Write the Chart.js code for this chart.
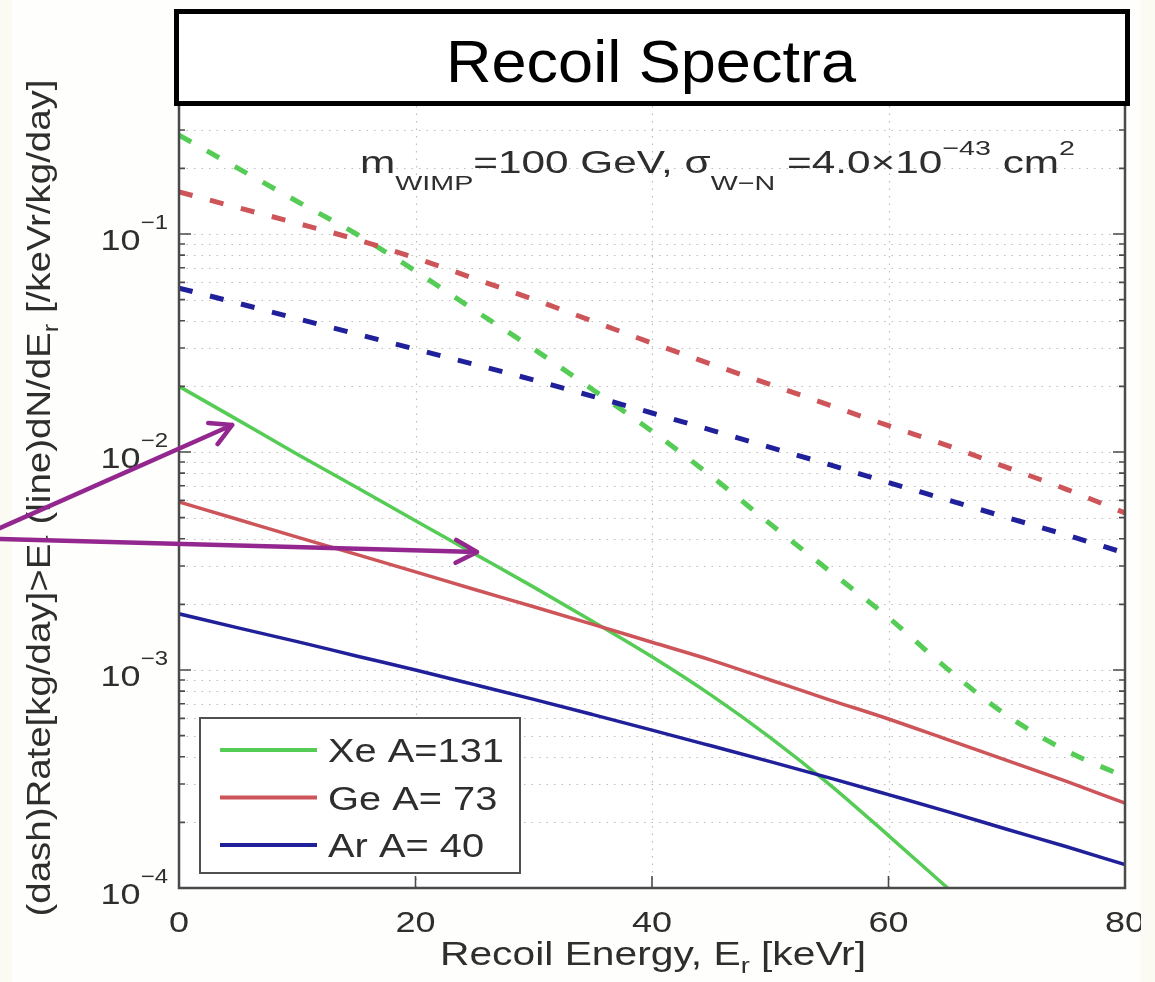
<!DOCTYPE html>
<html><head><meta charset="utf-8">
<script src="https://cdn.jsdelivr.net/npm/chart.js@4.4.1/dist/chart.umd.min.js"></script>
<style>html,body{margin:0;padding:0;background:#fdfdf9;}canvas{display:block;}</style>
</head><body>
<canvas id="c" width="1155" height="982"></canvas>
<script>
// ---------- data ----------
const energies = [0,5,10,15,20,25,30,35,40,45,50,55,60,65,70,75,80];
const xeSpecEnergies = [0,5,10,15,20,25,30,35,40,45,50,55,60,65];
// solid lines: dN/dE [/keVr/kg/day]
const xeSpec = [0.0200,0.0140,0.00977,0.00689,0.00484,0.00341,0.00240,0.00167,0.00115,0.000767,0.000490,0.000299,0.000174,0.000100];
const geSpec = [0.0059,0.0049,0.00407,0.00339,0.00282,0.00234,0.00195,0.00162,0.00134,0.00111,0.00090,0.00073,0.000596,0.000479,0.000385,0.000309,0.000245];
const arSpec = [0.00181,0.00156,0.00135,0.00116,0.00100,0.000857,0.000733,0.000624,0.00053,0.000449,0.00038,0.00032,0.000268,0.000224,0.000186,0.000155,0.000128];
// dashed lines: integrated rate above E [kg/day]
const xeRate = [0.284,0.200,0.141,0.100,0.0676,0.0447,0.0297,0.0193,0.01245,0.00776,0.00468,0.00285,0.00174,0.00101,0.00062,0.000427,0.000324];
const geRate = [0.156,0.132,0.112,0.0944,0.0776,0.0624,0.0501,0.0398,0.0316,0.0253,0.0204,0.0164,0.0132,0.0107,0.0085,0.00676,0.00525];
const arRate = [0.0565,0.0481,0.0409,0.0348,0.0296,0.0252,0.0214,0.0180,0.0151,0.0126,0.0105,0.00875,0.00724,0.00603,0.00501,0.00417,0.00344];
const seriesLabels = ['Xe A=131','Ge A= 73','Ar A= 40'];
const xTickValues = [0,20,40,60,80];
const yDecades = [-4,-3,-2,-1];
const chartTitle = 'Recoil Spectra';
// annotation arrows (data coordinates: keVr, rate)
const arrowTails = [[-16,0.00427],[-16,0.0040]];
const arrowTips  = [[4.5,0.0133],[25.2,0.00348]];

// ---------- styles ----------
const colXe = '#55cc55', colGe = '#cd5559', colAr = '#20209a';
const FAM = '"Liberation Sans", Arial, sans-serif';
const TXT = '#2e2e2e';

function pts(xs, ys){ return ys.map((v,i)=>({x:xs[i], y:v})); }

const solidW = 3.5, dashW = 5, dash = [14,18];
const datasets = [
  {label:seriesLabels[0], data:pts(xeSpecEnergies,xeSpec), borderColor:colXe, borderWidth:solidW, order:3},
  {label:seriesLabels[1], data:pts(energies,geSpec), borderColor:colGe, borderWidth:solidW, order:2},
  {label:seriesLabels[2], data:pts(energies,arSpec), borderColor:colAr, borderWidth:solidW, order:1},
  {label:seriesLabels[0]+' rate', data:pts(energies,xeRate), borderColor:colXe, borderWidth:dashW, borderDash:dash, order:6},
  {label:seriesLabels[1]+' rate', data:pts(energies,geRate), borderColor:colGe, borderWidth:dashW, borderDash:dash, order:5},
  {label:seriesLabels[2]+' rate', data:pts(energies,arRate), borderColor:colAr, borderWidth:dashW, borderDash:dash, order:4},
].map(d=>Object.assign({pointRadius:0, fill:false, cubicInterpolationMode:'monotone', borderCapStyle:'butt'}, d));

// ---------- text helpers ----------
function richWidth(ctx, parts){ let w=0; for(const p of parts){ ctx.font=p.size+'px '+FAM; w+=ctx.measureText(p.t).width; } return w; }
function drawRich(ctx, parts, x, y, align, opt){
  const nat = richWidth(ctx, parts);
  const sx = opt.target ? opt.target/nat : (opt.sx||1);
  const total = nat*sx;
  const x0 = align==='center' ? x-total/2 : align==='right' ? x-total : x;
  ctx.save(); ctx.translate(x0,y); ctx.scale(sx,1);
  ctx.textAlign='left'; ctx.textBaseline='alphabetic'; ctx.fillStyle=opt.color||TXT;
  let cx=0;
  for(const p of parts){ ctx.font=p.size+'px '+FAM; ctx.fillText(p.t,cx,p.dy||0); cx+=ctx.measureText(p.t).width; }
  ctx.restore();
  return sx;
}
function arrow(ctx, x1,y1,x2,y2){
  const a=Math.atan2(y2-y1,x2-x1), L=24, h=0.5;
  ctx.beginPath(); ctx.moveTo(x1,y1); ctx.lineTo(x2,y2);
  ctx.moveTo(x2-L*Math.cos(a-h), y2-L*Math.sin(a-h)); ctx.lineTo(x2,y2);
  ctx.lineTo(x2-L*Math.cos(a+h), y2-L*Math.sin(a+h)); ctx.stroke();
}

const decor = {
  id:'decor',
  beforeDraw(chart){
    const ctx=chart.ctx, a=chart.chartArea, xs=chart.scales.x, ys=chart.scales.y;
    ctx.save();
    ctx.fillStyle='#fefefc'; ctx.fillRect(0,0,chart.width,chart.height);
    ctx.fillStyle='#ffffff'; ctx.fillRect(a.left,a.top,a.right-a.left,a.bottom-a.top);
    // dotted grid
    ctx.strokeStyle='#bdbdbd'; ctx.lineWidth=1.2; ctx.setLineDash([1.5,6]);
    for(let d=-4; d<0; d++){ for(let m=1;m<=9;m++){ const v=m*Math.pow(10,d); if(v<=ys.min) continue;
      const y=Math.round(ys.getPixelForValue(v))+0.5; ctx.beginPath(); ctx.moveTo(a.left,y); ctx.lineTo(a.right,y); ctx.stroke(); } }
    for(const t of xTickValues){ if(t<=xs.min||t>=xs.max) continue; const x=Math.round(xs.getPixelForValue(t))+0.5;
      ctx.beginPath(); ctx.moveTo(x,a.top); ctx.lineTo(x,a.bottom); ctx.stroke(); }
    ctx.restore();
  },
  afterDatasetsDraw(chart){
    const ctx=chart.ctx, a=chart.chartArea, xs=chart.scales.x, ys=chart.scales.y;
    ctx.save();
    // axes box
    ctx.strokeStyle='#4a4a4a'; ctx.lineWidth=2.5; ctx.setLineDash([]);
    ctx.strokeRect(a.left,a.top,a.right-a.left,a.bottom-a.top);
    // ticks (inward)
    ctx.lineWidth=1.6;
    for(let d=-4; d<0; d++){ for(let m=1;m<=9;m++){ const v=m*Math.pow(10,d); const y=ys.getPixelForValue(v); const L=m===1?12:6;
      ctx.beginPath(); ctx.moveTo(a.left,y); ctx.lineTo(a.left+L,y); ctx.moveTo(a.right,y); ctx.lineTo(a.right-L,y); ctx.stroke(); } }
    for(const t of xTickValues){ const x=xs.getPixelForValue(t);
      ctx.beginPath(); ctx.moveTo(x,a.bottom); ctx.lineTo(x,a.bottom-12); ctx.stroke(); }
    // y tick labels 10^n
    for(const d of yDecades){ const y=ys.getPixelForValue(Math.pow(10,d));
      drawRich(ctx,[{t:'10',size:30},{t:'\u2212'+Math.abs(d),size:20,dy:-21}],168,y+16,'right',{sx:1.2}); }
    // x tick labels
    for(const t of xTickValues){ const x=xs.getPixelForValue(t);
      drawRich(ctx,[{t:String(t),size:30}],x,932,'center',{sx:1.2}); }
    // x axis title
    drawRich(ctx,[{t:'Recoil Energy, E',size:33},{t:'r',size:22,dy:8},{t:' [keVr]',size:33}],653,965,'center',{target:426});
    // y axis title (rotated)
    ctx.save(); ctx.translate(50,498); ctx.rotate(-Math.PI/2);
    drawRich(ctx,[{t:'(dash)Rate[kg/day]>E',size:33},{t:'r',size:22,dy:8},{t:' (line)dN/dE',size:33},{t:'r',size:22,dy:8},{t:' [/keVr/kg/day]',size:33}],0,0,'center',{target:837});
    ctx.restore();
    // annotation
    drawRich(ctx,[{t:'m',size:31},{t:'WIMP',size:21,dy:17},{t:'=100 GeV, ',size:31},{t:'\u03c3',size:31},{t:'W\u2212N',size:21,dy:17},
      {t:' =4.0\u00d710',size:31},{t:'\u221243',size:21,dy:-18},{t:' cm',size:31},{t:'2',size:21,dy:-18}],360,173,'left',{target:715});
    // legend
    ctx.fillStyle='#ffffff'; ctx.fillRect(200,718,320,155);
    ctx.strokeStyle='#505050'; ctx.lineWidth=2; ctx.strokeRect(200,718,320,155);
    const lc=[colXe,colGe,colAr]; let lsx=null;
    seriesLabels.forEach((lab,i)=>{ const cy=750+i*47.5;
      ctx.strokeStyle=lc[i]; ctx.lineWidth=4; ctx.beginPath(); ctx.moveTo(220,cy); ctx.lineTo(317,cy); ctx.stroke();
      const s=drawRich(ctx,[{t:lab,size:34}],328,cy+12,'left', lsx===null?{target:176}:{sx:lsx}); if(lsx===null) lsx=s; });
    // title box
    ctx.fillStyle='#ffffff'; ctx.fillRect(176,11,952,93);
    ctx.strokeStyle='#000'; ctx.lineWidth=5; ctx.strokeRect(176.5,11.5,951,92);
    drawRich(ctx,[{t:chartTitle,size:60}],651,82,'center',{target:410,color:'#000'});
    // page edges
    ctx.fillStyle='#fbfbf3'; ctx.fillRect(1141,0,14,982); ctx.fillRect(0,0,12,982);
    // arrows
    ctx.strokeStyle='#93278f'; ctx.lineWidth=4.5; ctx.lineCap='round'; ctx.lineJoin='round';
    arrowTips.forEach((tip,i)=>{ const tl=arrowTails[i];
      arrow(ctx, xs.getPixelForValue(tl[0]), ys.getPixelForValue(tl[1]), xs.getPixelForValue(tip[0]), ys.getPixelForValue(tip[1])); });
    ctx.restore();
  }
};

new Chart(document.getElementById('c'), {
  type:'line',
  data:{datasets},
  options:{
    responsive:false, animation:false, devicePixelRatio:1,
    layout:{padding:{left:179,right:30,top:16,bottom:94}},
    scales:{
      x:{type:'linear',min:0,max:80,display:false},
      y:{type:'logarithmic',min:1e-4,max:1,display:false}
    },
    plugins:{legend:{display:false},tooltip:{enabled:false}}
  },
  plugins:[decor]
});
</script>
</body></html>
